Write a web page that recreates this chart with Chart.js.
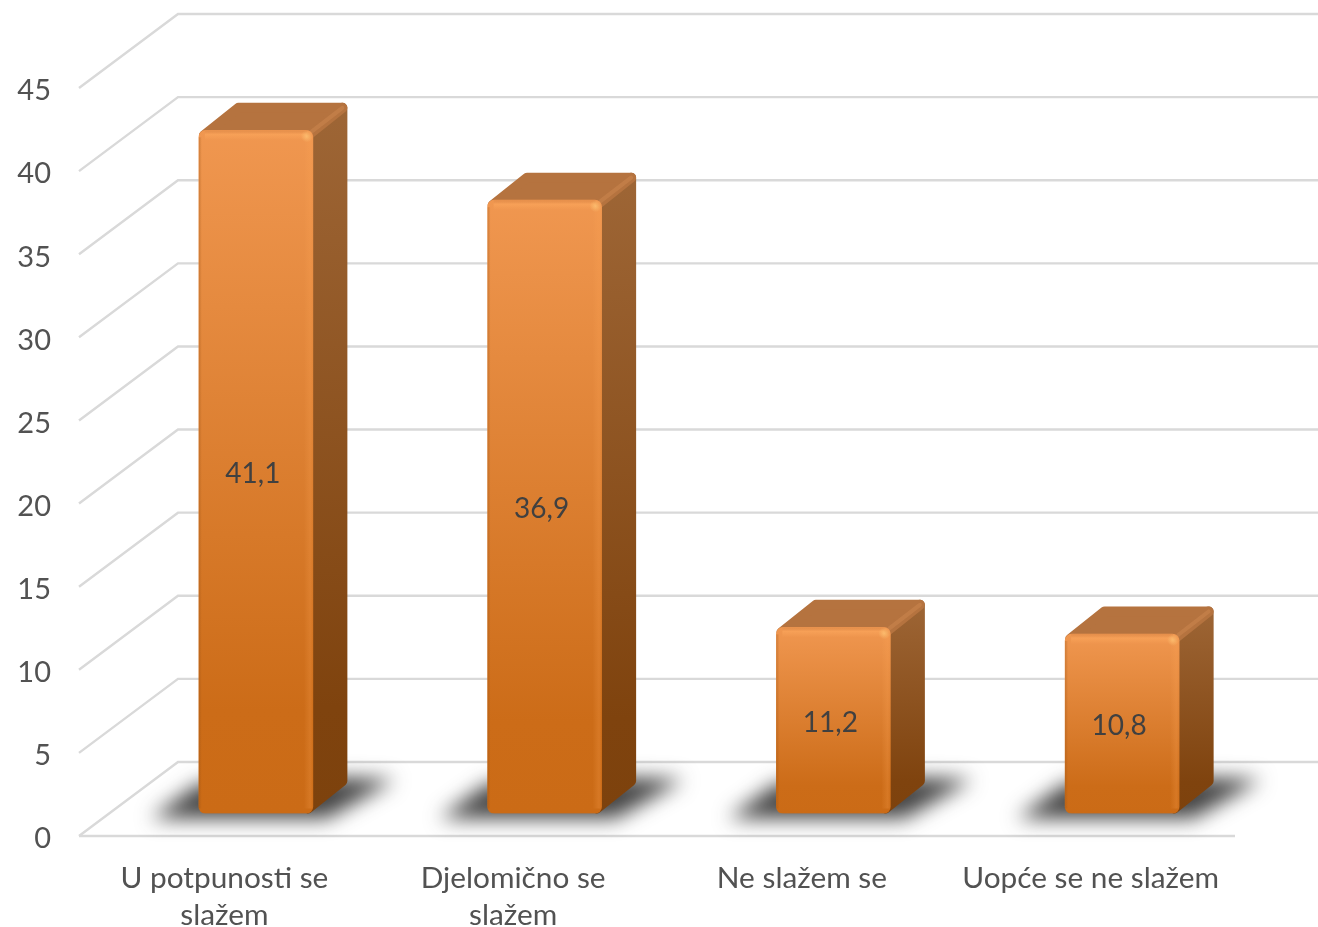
<!DOCTYPE html>
<html>
<head>
<meta charset="utf-8">
<style>html,body{margin:0;padding:0;background:#fff}#w{width:1318px;height:927px;position:relative}</style>
<script src="https://cdn.jsdelivr.net/npm/chart.js@4/dist/chart.umd.min.js"></script>
</head>
<body>
<div id="w"><canvas id="c" width="1318" height="927"></canvas></div>
<script>
const categories = [["U potpunosti se","slažem"],["Djelomično se","slažem"],"Ne slažem se","Uopće se ne slažem"];
const seriesValues = [41.1, 36.9, 11.2, 10.8];
const valueLabels = ["41,1","36,9","11,2","10,8"];
const axisMax = 45;
const axisStep = 5;

const FONT = 'Lato, "Open Sans", sans-serif';
const TEXT = '#525252';
const GRID = '#d9d9d9';
const WALL = {dx: 98, dy: 74};
const BAR = {dx: 31.5, dy: 22.5, depthX: 34.5, depthY: 27.5, r: 7};

function poly(ctx, pts){
  ctx.beginPath();
  pts.forEach((p,i)=> i?ctx.lineTo(p[0],p[1]):ctx.moveTo(p[0],p[1]));
  ctx.closePath();
}

const scene = {
  id: 'scene',
  beforeDatasetsDraw(chart){
    const {ctx, scales:{x,y}} = chart;
    const left = x.left, right = x.right, bottom = y.getPixelForValue(0);
    ctx.save();
    ctx.strokeStyle = GRID; ctx.lineWidth = 2.4; ctx.lineCap = 'butt';
    y.ticks.forEach(t=>{
      const py = y.getPixelForValue(t.value);
      ctx.beginPath();
      ctx.moveTo(left-1, py);
      ctx.lineTo(left+WALL.dx, py-WALL.dy);
      ctx.lineTo(chart.width, py-WALL.dy);
      ctx.stroke();
    });
    ctx.lineWidth = 2.6;
    ctx.beginPath(); ctx.moveTo(left-1,bottom); ctx.lineTo(right,bottom); ctx.stroke();

    const bars = chart.getDatasetMeta(0).data;
    bars.forEach(b=>{
      const l = b.x - b.width/2 + BAR.dx, r = b.x + b.width/2 + BAR.dx;
      const base = b.base - BAR.dy;
      ctx.save();
      ctx.filter = 'blur(10px)';
      ctx.fillStyle = 'rgba(35,35,35,0.85)';
      poly(ctx,[[l-48,base+5],[r+14,base+5],[r+82,base-34],[r+30,base-36],[l,base-30]]);
      ctx.fill();
      ctx.restore();
    });
    bars.forEach(b=>{
      const l = b.x - b.width/2 + BAR.dx, r = b.x + b.width/2 + BAR.dx;
      const top = b.y - BAR.dy, base = b.base - BAR.dy;
      const dx = BAR.depthX, dy = BAR.depthY, i = 5;
      ctx.lineJoin = 'round'; ctx.lineWidth = i*2;
      const side = ctx.createLinearGradient(0,top-dy,0,base);
      side.addColorStop(0,'#9e6636');
      side.addColorStop(0.85,'#7f430e');
      side.addColorStop(1,'#7d420d');
      ctx.fillStyle = side; ctx.strokeStyle = side;
      poly(ctx,[[r-i,top+i],[r+dx-i,top-dy+i],[r+dx-i,base-dy-i],[r-i,base-i]]);
      ctx.fill(); ctx.stroke();
      ctx.fillStyle = '#b5733f'; ctx.strokeStyle = '#b5733f';
      poly(ctx,[[l+i,top+i],[l+dx+i,top-dy+i],[r+dx-i,top-dy+i],[r-i,top+i]]);
      ctx.fill(); ctx.stroke();
      ctx.strokeStyle = 'rgba(205,135,80,0.5)'; ctx.lineWidth = 4; ctx.lineCap = 'round';
      ctx.beginPath(); ctx.moveTo(r-1,top+1); ctx.lineTo(r+dx-5,top-dy+5); ctx.stroke();
    });
    ctx.restore();
    ctx.save();
    ctx.translate(BAR.dx,-BAR.dy);
  },
  afterDatasetsDraw(chart){
    const {ctx} = chart;
    ctx.restore();
    ctx.save();
    chart.getDatasetMeta(0).data.forEach((b,idx)=>{
      const l = b.x - b.width/2 + BAR.dx, r = b.x + b.width/2 + BAR.dx;
      const top = b.y - BAR.dy, base = b.base - BAR.dy;
      const edge = ctx.createLinearGradient(r-9,0,r,0);
      edge.addColorStop(0,'rgba(255,170,90,0)');
      edge.addColorStop(0.7,'rgba(255,165,85,0.22)');
      edge.addColorStop(1,'rgba(255,165,85,0.08)');
      ctx.fillStyle = edge; ctx.fillRect(r-9,top+7,9,base-top-12);
      const topEdge = ctx.createLinearGradient(0,top,0,top+10);
      topEdge.addColorStop(0,'rgba(200,120,60,0.25)');
      topEdge.addColorStop(0.4,'rgba(255,170,95,0.5)');
      topEdge.addColorStop(1,'rgba(255,170,95,0)');
      ctx.fillStyle = topEdge; ctx.fillRect(l+6,top,r-l-12,10);
      const leftEdge = ctx.createLinearGradient(l,0,l+3,0);
      leftEdge.addColorStop(0,'rgba(150,80,20,0.35)');
      leftEdge.addColorStop(1,'rgba(150,80,20,0)');
      ctx.fillStyle = leftEdge; ctx.fillRect(l,top+7,3,base-top-12);
      const spot = ctx.createRadialGradient(r-6,top+6,0,r-6,top+6,6);
      spot.addColorStop(0,'rgba(255,200,120,0.7)');
      spot.addColorStop(1,'rgba(255,200,120,0)');
      ctx.fillStyle = spot; ctx.fillRect(r-12,top,12,12);
      ctx.fillStyle = '#404040';
      ctx.font = '28px ' + FONT;
      ctx.textAlign = 'center'; ctx.textBaseline = 'middle';
      ctx.fillText(valueLabels[idx], (l+r)/2-3, (top+base)/2+2.5);
    });
    ctx.restore();
  }
};

new Chart(document.getElementById('c'), {
  type: 'bar',
  data: {
    labels: categories,
    datasets: [{
      data: seriesValues,
      barThickness: 114,
      borderRadius: BAR.r,
      borderSkipped: false,
      backgroundColor(c){
        const chart = c.chart, sc = chart.scales.y;
        if(!chart.chartArea || !sc || c.dataIndex === undefined) return '#dd7d2b';
        const g = chart.ctx.createLinearGradient(0, sc.getPixelForValue(seriesValues[c.dataIndex]), 0, sc.getPixelForValue(0));
        g.addColorStop(0,'#f09750');
        g.addColorStop(0.85,'#cc6c18');
        g.addColorStop(1,'#cb6b16');
        return g;
      }
    }]
  },
  options: {
    responsive: false,
    animation: false,
    layout: {padding: {top: 88, right: 83, left: 0, bottom: 0}},
    plugins: {legend: {display: false}, title: {display: false}, tooltip: {enabled: false}},
    scales: {
      x: {
        grid: {display: false, drawTicks: false},
        border: {display: false},
        afterFit(s){ s.height = 91; },
        ticks: {padding: 24, maxRotation: 0, minRotation: 0, color: TEXT, font: {family: FONT, size: 29.8, lineHeight: 1.24}}
      },
      y: {
        min: 0, max: axisMax,
        grid: {display: false, drawTicks: false},
        border: {display: false},
        afterFit(s){
          s.width = 80;
          if(!s._shifted){
            s._shifted = true;
            const orig = s.drawLabels;
            s.drawLabels = function(area){
              s.ctx.save(); s.ctx.translate(0,3); orig.call(s,area); s.ctx.restore();
            };
          }
        },
        ticks: {stepSize: axisStep, padding: 29, color: TEXT, font: {family: FONT, size: 29}}
      }
    }
  },
  plugins: [scene]
});
</script>
</body>
</html>
